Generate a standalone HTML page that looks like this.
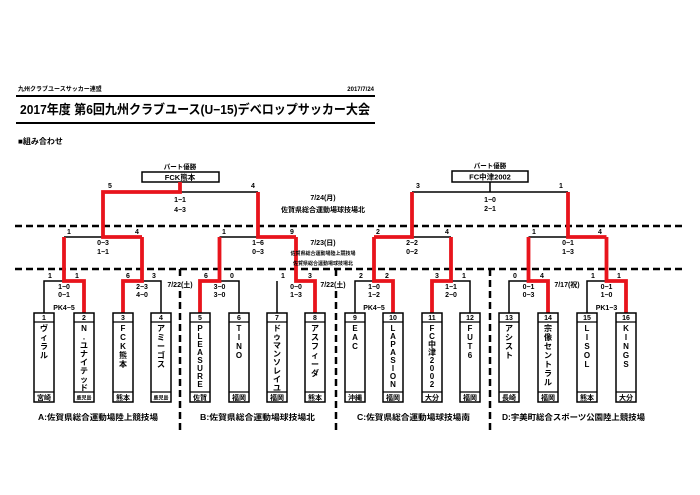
<!DOCTYPE html>
<html><head><meta charset="utf-8"><style>
html,body{margin:0;padding:0;background:#fff;}
svg{display:block;font-family:"Liberation Sans","Noto Sans CJK JP",sans-serif;font-weight:bold;}
</style></head><body>
<svg width="700" height="495" viewBox="0 0 700 495" xmlns="http://www.w3.org/2000/svg">
<rect width="700" height="495" fill="#fff"/>
<text x="18" y="91" font-size="6">九州クラブユースサッカー連盟</text>
<text x="374" y="91" font-size="6" text-anchor="end">2017/7/24</text>
<line x1="16" y1="96" x2="375" y2="96" stroke="#000" stroke-width="2"/>
<text x="20" y="114" font-size="13" textLength="350" lengthAdjust="spacingAndGlyphs">2017年度 第6回九州クラブユース(U−15)デベロップサッカー大会</text>
<line x1="16" y1="123" x2="375" y2="123" stroke="#000" stroke-width="2"/>
<text x="18" y="144" font-size="8">■組み合わせ</text>

<g stroke="#000" stroke-width="2.5" stroke-dasharray="7,4" fill="none">
<line x1="15" y1="226" x2="684" y2="226"/>
<line x1="15" y1="269" x2="684" y2="269"/>
<line x1="180" y1="269" x2="180" y2="432"/>
<line x1="336" y1="269" x2="336" y2="432"/>
<line x1="490" y1="269" x2="490" y2="432"/>
</g>

<text x="180" y="169" font-size="6.5" text-anchor="middle">パート優勝</text>
<rect x="142" y="172" width="77" height="10" fill="#fff" stroke="#000" stroke-width="1.5"/>
<text x="180" y="180" font-size="7.5" text-anchor="middle">FCK熊本</text>
<text x="490" y="168" font-size="6.5" text-anchor="middle">パート優勝</text>
<rect x="452" y="171" width="76" height="11" fill="#fff" stroke="#000" stroke-width="1.5"/>
<text x="490" y="179.5" font-size="7.5" text-anchor="middle">FC中津2002</text>

<g stroke="#000" stroke-width="1.5" fill="none">
<polyline points="44,313 44,281 64,281"/>
<polyline points="161,313 161,281 142,281"/>
<polyline points="239,313 239,281 219.5,281"/>
<polyline points="277,313 277,281"/>
<polyline points="355,313 355,281 374,281"/>
<polyline points="470,313 470,281 451,281"/>
<polyline points="509,313 509,281 528.5,281"/>
<polyline points="587,313 587,281 606.5,281"/>
<line x1="64" y1="237" x2="103" y2="237"/>
<line x1="219.5" y1="237" x2="258" y2="237"/>
<line x1="412" y1="237" x2="451" y2="237"/>
<line x1="528.5" y1="237" x2="568" y2="237"/>
<line x1="180" y1="192" x2="258" y2="192"/>
<line x1="412" y1="192" x2="568" y2="192"/>
<line x1="490" y1="192" x2="490" y2="182"/>
</g>
<g stroke="#e8141c" stroke-width="3.8" fill="none" stroke-linejoin="miter">
<polyline points="84,313 84,281 64,281 64,237"/>
<polyline points="123,313 123,281 142,281 142,237"/>
<polyline points="200,313 200,281 219.5,281 219.5,237"/>
<polyline points="315,313 315,281 296,281 296,237"/>
<polyline points="393,313 393,281 374,281 374,237"/>
<polyline points="432,313 432,281 451,281 451,237"/>
<polyline points="548,313 548,281 528.5,281 528.5,237"/>
<polyline points="626,313 626,281 606.5,281 606.5,237"/>
<polyline points="142,237 103,237 103,192 180,192 180,182"/>
<polyline points="296,237 258,237 258,192"/>
<polyline points="374,237 412,237 412,192"/>
<polyline points="606.5,237 568,237 568,192"/>
</g>

<g font-size="7" text-anchor="middle">
<text x="110" y="188">5</text><text x="253" y="188">4</text>
<text x="418" y="188">3</text><text x="561" y="188">1</text>
<text x="69" y="234">1</text><text x="137" y="234">4</text>
<text x="224" y="234">1</text><text x="292" y="234">9</text>
<text x="378" y="234">2</text><text x="447" y="234">4</text>
<text x="534" y="234">1</text><text x="600" y="234">4</text>
<text x="50" y="278">1</text><text x="77" y="278">1</text>
<text x="128" y="278">6</text><text x="154" y="278">3</text>
<text x="206" y="278">6</text><text x="232" y="278">0</text>
<text x="283" y="278">1</text><text x="310" y="278">3</text>
<text x="361" y="278">2</text><text x="387" y="278">2</text>
<text x="437" y="278">3</text><text x="464" y="278">1</text>
<text x="515" y="278">0</text><text x="542" y="278">4</text>
<text x="593" y="278">1</text><text x="619" y="278">1</text>
</g>

<g font-size="7" text-anchor="middle">
<text x="180" y="202">1−1</text><text x="180" y="212">4−3</text>
<text x="490" y="202">1−0</text><text x="490" y="211">2−1</text>
<text x="103" y="245">0−3</text><text x="103" y="254">1−1</text>
<text x="258" y="245">1−6</text><text x="258" y="254">0−3</text>
<text x="412" y="245">2−2</text><text x="412" y="254">0−2</text>
<text x="568" y="245">0−1</text><text x="568" y="254">1−3</text>
<text x="64" y="289">1−0</text><text x="64" y="297">0−1</text><text x="64" y="310">PK4−5</text>
<text x="142" y="289">2−3</text><text x="142" y="297">4−0</text>
<text x="219.5" y="289">3−0</text><text x="219.5" y="297">3−0</text>
<text x="296" y="289">0−0</text><text x="296" y="297">1−3</text>
<text x="374" y="289">1−0</text><text x="374" y="297">1−2</text><text x="374" y="310">PK4−5</text>
<text x="451" y="289">1−1</text><text x="451" y="297">2−0</text>
<text x="528.5" y="289">0−1</text><text x="528.5" y="297">0−3</text>
<text x="606.5" y="289">0−1</text><text x="606.5" y="297">1−0</text><text x="606.5" y="310">PK1−3</text>
</g>

<rect x="166" y="280" width="29" height="9" fill="#fff"/>
<rect x="319" y="280" width="29" height="9" fill="#fff"/>
<rect x="552" y="280" width="30" height="9" fill="#fff"/>
<g font-size="7" text-anchor="middle">
<text x="323" y="200">7/24(月)</text>
<text x="323" y="212">佐賀県総合運動場球技場北</text>
<text x="323" y="245">7/23(日)</text>
<text x="323" y="255" font-size="5">佐賀県総合運動場陸上競技場</text>
<text x="323" y="265" font-size="5">佐賀県総合運動場球技場北</text>
<text x="180" y="287">7/22(土)</text>
<text x="333" y="287">7/22(土)</text>
<text x="567" y="287">7/17(祝)</text>
</g>

<g fill="#fff" stroke="#000" stroke-width="1.5">
<rect x="34" y="313" width="20" height="89"/><rect x="74" y="313" width="20" height="89"/>
<rect x="113" y="313" width="20" height="89"/><rect x="151" y="313" width="20" height="89"/>
<rect x="190" y="313" width="20" height="89"/><rect x="229" y="313" width="20" height="89"/>
<rect x="267" y="313" width="20" height="89"/><rect x="305" y="313" width="20" height="89"/>
<rect x="345" y="313" width="20" height="89"/><rect x="383" y="313" width="20" height="89"/>
<rect x="422" y="313" width="20" height="89"/><rect x="460" y="313" width="20" height="89"/>
<rect x="499" y="313" width="20" height="89"/><rect x="538" y="313" width="20" height="89"/>
<rect x="577" y="313" width="20" height="89"/><rect x="616" y="313" width="20" height="89"/>
</g>
<g stroke="#000" stroke-width="1.2">
<path d="M34 322h20M74 322h20M113 322h20M151 322h20M190 322h20M229 322h20M267 322h20M305 322h20M345 322h20M383 322h20M422 322h20M460 322h20M499 322h20M538 322h20M577 322h20M616 322h20"/>
<path d="M34 392h20M74 392h20M113 392h20M151 392h20M190 392h20M229 392h20M267 392h20M305 392h20M345 392h20M383 392h20M422 392h20M460 392h20M499 392h20M538 392h20M577 392h20M616 392h20"/>
</g>
<g font-size="7" text-anchor="middle">
<text x="44" y="320">1</text><text x="84" y="320">2</text><text x="123" y="320">3</text><text x="161" y="320">4</text>
<text x="200" y="320">5</text><text x="239" y="320">6</text><text x="277" y="320">7</text><text x="315" y="320">8</text>
<text x="355" y="320">9</text><text x="393" y="320">10</text><text x="432" y="320">11</text><text x="470" y="320">12</text>
<text x="509" y="320">13</text><text x="548" y="320">14</text><text x="587" y="320">15</text><text x="626" y="320">16</text>
</g>
<g font-size="7" text-anchor="middle">
<text x="44" y="400">宮崎</text><text x="84" y="399.5" font-size="5">鹿児島</text><text x="123" y="400">熊本</text><text x="161" y="399.5" font-size="5">鹿児島</text>
<text x="200" y="400">佐賀</text><text x="239" y="400">福岡</text><text x="277" y="400">福岡</text><text x="315" y="400">熊本</text>
<text x="355" y="400">沖縄</text><text x="393" y="400">福岡</text><text x="432" y="400">大分</text><text x="470" y="400">福岡</text>
<text x="509" y="400">長崎</text><text x="548" y="400">福岡</text><text x="587" y="400">熊本</text><text x="626" y="400">大分</text>
</g>
<g font-size="8" text-anchor="middle">
<text y="331"><tspan x="44">ヴ</tspan><tspan x="44" dy="9">ィ</tspan><tspan x="44" dy="9">ラ</tspan><tspan x="44" dy="9">ル</tspan></text>
<text y="331"><tspan x="84">N</tspan><tspan x="84" dy="8.5">.</tspan><tspan x="84" dy="8.5">ユ</tspan><tspan x="84" dy="8.5">ナ</tspan><tspan x="84" dy="8.5">イ</tspan><tspan x="84" dy="8.5">テ</tspan><tspan x="84" dy="8.5">ッ</tspan><tspan x="84" dy="8.5">ド</tspan></text>
<text y="331"><tspan x="123">F</tspan><tspan x="123" dy="9">C</tspan><tspan x="123" dy="9">K</tspan><tspan x="123" dy="9">熊</tspan><tspan x="123" dy="9">本</tspan></text>
<text y="331"><tspan x="161">ア</tspan><tspan x="161" dy="9">ミ</tspan><tspan x="161" dy="9">ー</tspan><tspan x="161" dy="9">ゴ</tspan><tspan x="161" dy="9">ス</tspan></text>
<text y="331"><tspan x="200">P</tspan><tspan x="200" dy="8">L</tspan><tspan x="200" dy="8">E</tspan><tspan x="200" dy="8">A</tspan><tspan x="200" dy="8">S</tspan><tspan x="200" dy="8">U</tspan><tspan x="200" dy="8">R</tspan><tspan x="200" dy="8">E</tspan></text>
<text y="331"><tspan x="239">T</tspan><tspan x="239" dy="9">I</tspan><tspan x="239" dy="9">N</tspan><tspan x="239" dy="9">O</tspan></text>
<text y="331"><tspan x="277">ド</tspan><tspan x="277" dy="8.5">ゥ</tspan><tspan x="277" dy="8.5">マ</tspan><tspan x="277" dy="8.5">ン</tspan><tspan x="277" dy="8.5">ソ</tspan><tspan x="277" dy="8.5">レ</tspan><tspan x="277" dy="8.5">イ</tspan><tspan x="277" dy="8.5">ユ</tspan></text>
<text y="331"><tspan x="315">ア</tspan><tspan x="315" dy="9">ス</tspan><tspan x="315" dy="9">フ</tspan><tspan x="315" dy="9">ィ</tspan><tspan x="315" dy="9">ー</tspan><tspan x="315" dy="9">ダ</tspan></text>
<text y="331"><tspan x="355">E</tspan><tspan x="355" dy="9">A</tspan><tspan x="355" dy="9">C</tspan></text>
<text y="331"><tspan x="393">L</tspan><tspan x="393" dy="8">A</tspan><tspan x="393" dy="8">P</tspan><tspan x="393" dy="8">A</tspan><tspan x="393" dy="8">S</tspan><tspan x="393" dy="8">I</tspan><tspan x="393" dy="8">O</tspan><tspan x="393" dy="8">N</tspan></text>
<text y="331"><tspan x="432">F</tspan><tspan x="432" dy="8">C</tspan><tspan x="432" dy="8">中</tspan><tspan x="432" dy="8">津</tspan><tspan x="432" dy="8">2</tspan><tspan x="432" dy="8">0</tspan><tspan x="432" dy="8">0</tspan><tspan x="432" dy="8">2</tspan></text>
<text y="331"><tspan x="470">F</tspan><tspan x="470" dy="9">U</tspan><tspan x="470" dy="9">T</tspan><tspan x="470" dy="9">6</tspan></text>
<text y="331"><tspan x="509">ア</tspan><tspan x="509" dy="9">シ</tspan><tspan x="509" dy="9">ス</tspan><tspan x="509" dy="9">ト</tspan></text>
<text y="331"><tspan x="548">宗</tspan><tspan x="548" dy="9">像</tspan><tspan x="548" dy="9">セ</tspan><tspan x="548" dy="9">ン</tspan><tspan x="548" dy="9">ト</tspan><tspan x="548" dy="9">ラ</tspan><tspan x="548" dy="9">ル</tspan></text>
<text y="331"><tspan x="587">L</tspan><tspan x="587" dy="9">I</tspan><tspan x="587" dy="9">S</tspan><tspan x="587" dy="9">O</tspan><tspan x="587" dy="9">L</tspan></text>
<text y="331"><tspan x="626">K</tspan><tspan x="626" dy="9">I</tspan><tspan x="626" dy="9">N</tspan><tspan x="626" dy="9">G</tspan><tspan x="626" dy="9">S</tspan></text>
</g>

<g font-size="8">
<text x="38" y="420" textLength="120" lengthAdjust="spacingAndGlyphs">A:佐賀県総合運動場陸上競技場</text>
<text x="200" y="420" textLength="115" lengthAdjust="spacingAndGlyphs">B:佐賀県総合運動場球技場北</text>
<text x="357" y="420" textLength="113" lengthAdjust="spacingAndGlyphs">C:佐賀県総合運動場球技場南</text>
<text x="502" y="420" textLength="143" lengthAdjust="spacingAndGlyphs">D:宇美町総合スポーツ公園陸上競技場</text>
</g>
</svg>
</body></html>
